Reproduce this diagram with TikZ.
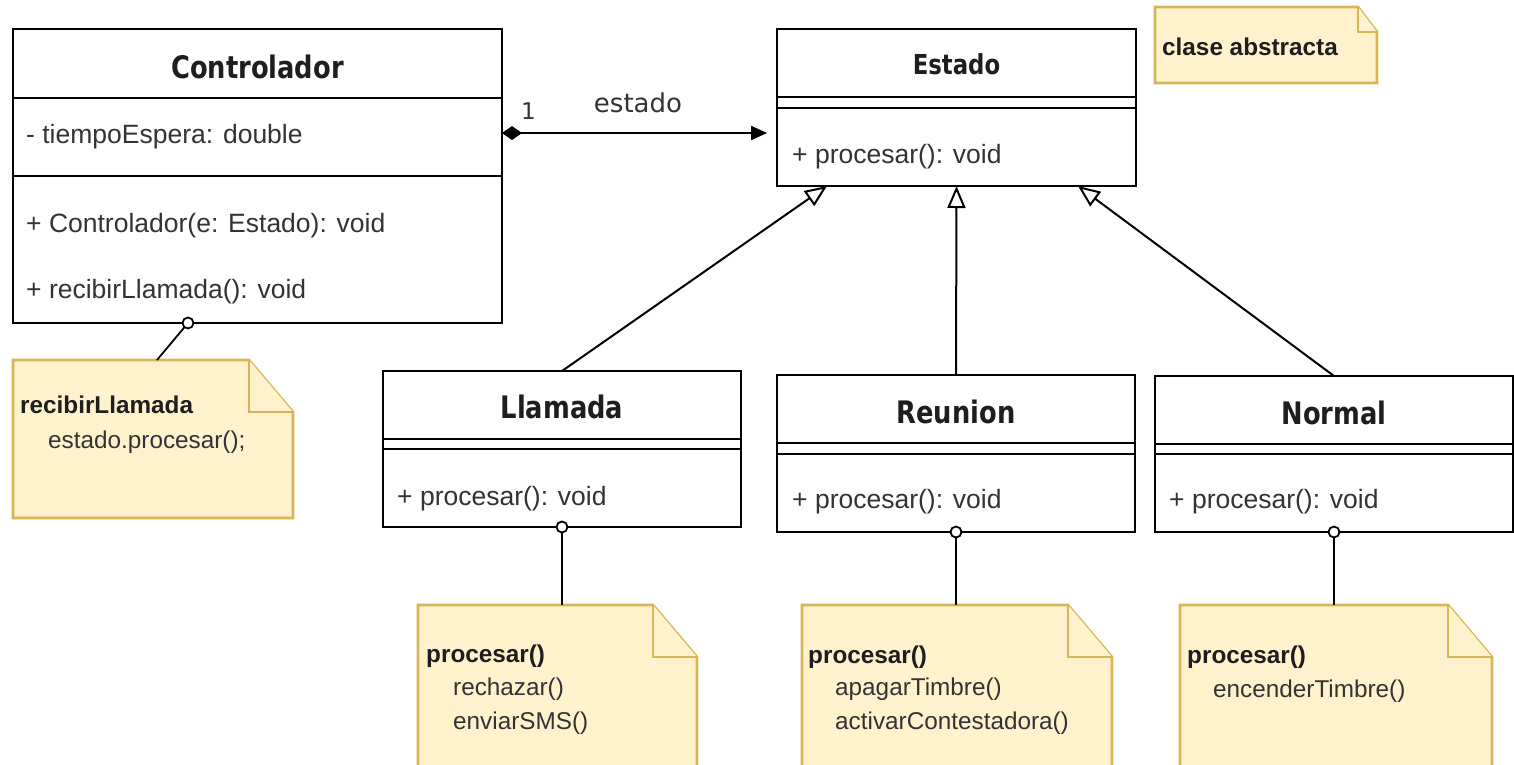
\documentclass[tikz,border=0pt]{standalone}
\usepackage{fontspec}
\setmainfont{Liberation Sans}
\newfontfamily\titlefont[FakeStretch=0.83]{DejaVu Sans}
\newfontfamily\labelfont{DejaVu Sans}
\usetikzlibrary{arrows.meta}
\definecolor{notefill}{HTML}{FFF2CC}
\definecolor{noteline}{HTML}{D6B656}
\definecolor{inkdark}{HTML}{1E1E1E}
\definecolor{inkbody}{HTML}{333333}

\begin{document}
\begin{tikzpicture}[x=1pt,y=-1pt,
  classbox/.style={draw=black, line width=2.2pt, fill=white, anchor=north west, inner sep=0pt, outer sep=0pt},
  notebox/.style={anchor=north west, inner sep=0pt, outer sep=0pt},
  noteshape/.style={draw=noteline, fill=notefill, line width=2.6pt, line join=miter},
  ctitle/.style={anchor=base, inner sep=0pt, text=inkdark, font=\titlefont\bfseries\fontsize{31}{36}\selectfont},
  member/.style={anchor=base west, inner sep=0pt, text=inkbody, font=\fontsize{26.5}{30}\selectfont},
  notehead/.style={anchor=base west, inner sep=0pt, text=inkdark, font=\bfseries\fontsize{24.3}{28}\selectfont},
  notebody/.style={anchor=base west, inner sep=0pt, text=inkbody, font=\fontsize{24.3}{28}\selectfont},
  rule/.style={line width=2.2pt},
  inherit/.style={line width=2pt, -{Triangle[open, length=22pt, width=18pt, fill=white, line width=2pt]}},
  anchorline/.style={line width=1.8pt},
  pin/.style={draw=black, line width=1.8pt, fill=white},
]
\useasboundingbox (0,0) rectangle (1514,764);
\fill[white] (0,0) rectangle (1514,764);
\clip (0,0) rectangle (1514,764);

% ---------- class boxes ----------
\node[classbox, minimum width=489pt, minimum height=294pt] (ctrl) at (13,29) {};
\node[classbox, minimum width=359pt, minimum height=157pt] (estado) at (777,29) {};
\node[classbox, minimum width=358pt, minimum height=156pt] (llamada) at (383,371) {};
\node[classbox, minimum width=358pt, minimum height=157pt] (reunion) at (777,375) {};
\node[classbox, minimum width=358pt, minimum height=156pt] (normal) at (1155,376) {};

% compartment separators
\draw[rule] ([yshift=-69pt]ctrl.north west) -- ([yshift=-69pt]ctrl.north east);
\draw[rule] ([yshift=-147pt]ctrl.north west) -- ([yshift=-147pt]ctrl.north east);
\draw[rule] ([yshift=-68pt]estado.north west) -- ([yshift=-68pt]estado.north east);
\draw[rule] ([yshift=-79pt]estado.north west) -- ([yshift=-79pt]estado.north east);
\draw[rule] ([yshift=-68pt]llamada.north west) -- ([yshift=-68pt]llamada.north east);
\draw[rule] ([yshift=-78pt]llamada.north west) -- ([yshift=-78pt]llamada.north east);
\draw[rule] ([yshift=-68pt]reunion.north west) -- ([yshift=-68pt]reunion.north east);
\draw[rule] ([yshift=-79pt]reunion.north west) -- ([yshift=-79pt]reunion.north east);
\draw[rule] ([yshift=-68pt]normal.north west) -- ([yshift=-68pt]normal.north east);
\draw[rule] ([yshift=-78pt]normal.north west) -- ([yshift=-78pt]normal.north east);

% class texts
\node[ctitle] (ctrlT) at (257.5,78) {Controlador};
\node[member] (ctrlA) at (26,143) {- tiempoEspera: double};
\node[member] (ctrlM1) at (26,232) {+ Controlador(e: Estado): void};
\node[member] (ctrlM2) at (26,298) {+ recibirLlamada(): void};

\node[ctitle, font=\titlefont\bfseries\fontsize{27.5}{32}\selectfont] (estadoT) at (956.5,74) {Estado};
\node[member] (estadoM) at (792,163) {+ procesar(): void};

\node[ctitle] (llamadaT) at (562,418) {Llamada};
\node[member] (llamadaM) at (397,505) {+ procesar(): void};

\node[ctitle] (reunionT) at (956,423) {Reunion};
\node[member] (reunionM) at (792,508) {+ procesar(): void};

\node[ctitle] (normalT) at (1334,424) {Normal};
\node[member] (normalM) at (1169,508) {+ procesar(): void};

% ---------- composition ----------
\draw[line width=2.2pt, {Diamond[length=20pt,width=14pt]}-{Triangle[length=16pt,width=14pt]}, shorten >=10pt]
  ([yshift=-104pt]ctrl.north east) -- ([yshift=-104pt]estado.north west);
\node[anchor=base, inner sep=0pt, text=inkbody, font=\labelfont\fontsize{26}{30}\selectfont] (rolename) at (638,112) {estado};
\node[anchor=base west, inner sep=0pt, text=inkbody, font=\labelfont\fontsize{23}{26}\selectfont] (mult) at (521,119) {1};

% ---------- generalisation ----------
\draw[inherit] (llamada.north) -- ([xshift=50pt]estado.south west);
\draw[inherit] (reunion.north) -- (estado.south);
\draw[inherit] (normal.north) -- ([xshift=-58pt]estado.south east);

% ---------- notes ----------
\node[notebox, minimum width=222pt, minimum height=76pt] (nabs) at (1155,7) {};
\draw[noteshape] (nabs.south west) -- (nabs.north west) -- ([xshift=-19pt]nabs.north east)
  -- ([yshift=-25pt]nabs.north east) -- (nabs.south east) -- cycle;
\draw[noteshape] ([xshift=-19pt]nabs.north east) -- ([xshift=-19pt,yshift=-25pt]nabs.north east) -- ([yshift=-25pt]nabs.north east);
\node[notehead] (nabsT) at (1162,55) {clase abstracta};

\node[notebox, minimum width=280pt, minimum height=158pt] (n1) at (13,360) {};
\draw[noteshape] (n1.south west) -- (n1.north west) -- ([xshift=-44pt]n1.north east)
  -- ([yshift=-52pt]n1.north east) -- (n1.south east) -- cycle;
\draw[noteshape] ([xshift=-44pt]n1.north east) -- ([xshift=-44pt,yshift=-52pt]n1.north east) -- ([yshift=-52pt]n1.north east);
\node[notehead] (n1T) at (20,413) {recibirLlamada};
\node[notebody] (n1B) at (48,448) {estado.procesar();};

\node[notebox, minimum width=279pt, minimum height=170pt] (n2) at (418,605) {};
\draw[noteshape] (n2.south west) -- (n2.north west) -- ([xshift=-44pt]n2.north east)
  -- ([yshift=-52pt]n2.north east) -- (n2.south east) -- cycle;
\draw[noteshape] ([xshift=-44pt]n2.north east) -- ([xshift=-44pt,yshift=-52pt]n2.north east) -- ([yshift=-52pt]n2.north east);
\node[notehead] (n2T) at (426,662) {procesar()};
\node[notebody] (n2B1) at (453,695) {rechazar()};
\node[notebody] (n2B2) at (453,729) {enviarSMS()};

\node[notebox, minimum width=310pt, minimum height=170pt] (n3) at (802,605) {};
\draw[noteshape] (n3.south west) -- (n3.north west) -- ([xshift=-44pt]n3.north east)
  -- ([yshift=-52pt]n3.north east) -- (n3.south east) -- cycle;
\draw[noteshape] ([xshift=-44pt]n3.north east) -- ([xshift=-44pt,yshift=-52pt]n3.north east) -- ([yshift=-52pt]n3.north east);
\node[notehead] (n3T) at (808,663) {procesar()};
\node[notebody] (n3B1) at (835,695) {apagarTimbre()};
\node[notebody] (n3B2) at (835,729) {activarContestadora()};

\node[notebox, minimum width=312pt, minimum height=170pt] (n4) at (1180,605) {};
\draw[noteshape] (n4.south west) -- (n4.north west) -- ([xshift=-44pt]n4.north east)
  -- ([yshift=-52pt]n4.north east) -- (n4.south east) -- cycle;
\draw[noteshape] ([xshift=-44pt]n4.north east) -- ([xshift=-44pt,yshift=-52pt]n4.north east) -- ([yshift=-52pt]n4.north east);
\node[notehead] (n4T) at (1187,663) {procesar()};
\node[notebody] (n4B1) at (1213,697) {encenderTimbre()};

% ---------- note anchors ----------
\draw[anchorline] ([xshift=175pt]ctrl.south west) -- ([xshift=144pt]n1.north west);
\draw[pin] ([xshift=175pt]ctrl.south west) circle (5.5pt);
\draw[anchorline] (llamada.south) -- (llamada.south |- n2.north);
\draw[pin] (llamada.south) circle (5.5pt);
\draw[anchorline] (reunion.south) -- (reunion.south |- n3.north);
\draw[pin] (reunion.south) circle (5.5pt);
\draw[anchorline] (normal.south) -- (normal.south |- n4.north);
\draw[pin] (normal.south) circle (5.5pt);
\end{tikzpicture}
\end{document}
